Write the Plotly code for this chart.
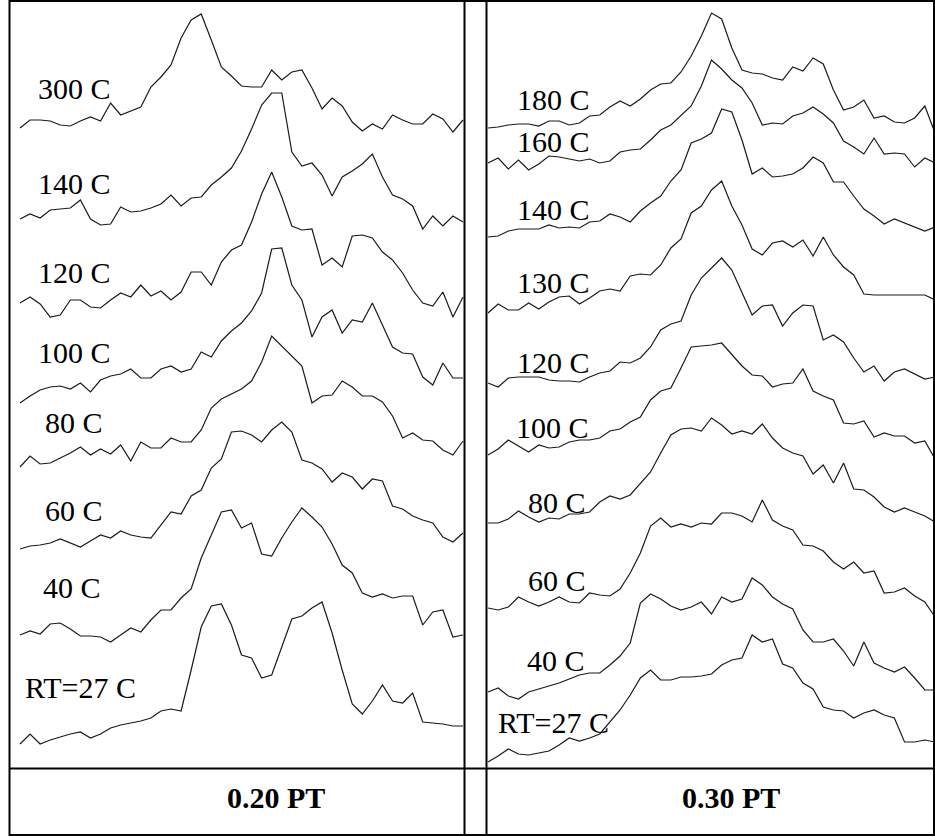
import plotly.graph_objects as go

W, H = 935, 836

# channel index (45 sampled channels per spectrum)
channels = list(range(45))

# ---- 0.20 PT panel: intensity (stacked, offset included) ----
pt20_300 = [640,648,648,647,643,642,647,651,647,665,653,657,661,681,691,703,730,748,754,728,701,692,682,681,681,698,688,696,698,680,659,670,662,646,637,644,639,653,648,644,644,654,649,636,648]
pt20_140 = [549,554,550,558,559,560,568,549,543,544,561,556,557,560,564,573,562,570,571,583,591,600,617,639,663,675,675,616,602,605,593,572,591,597,604,614,591,573,569,562,539,552,542,552,546]
pt20_120 = [465,471,464,451,453,468,468,461,460,468,475,471,483,472,477,468,476,496,496,483,506,518,523,546,574,596,571,542,538,539,503,510,501,532,533,530,516,508,495,478,465,462,476,451,471]
pt20_100 = [365,372,378,381,382,379,385,376,388,392,394,399,390,390,399,402,396,399,416,411,427,437,445,457,475,519,520,483,468,431,451,458,435,448,446,465,443,421,415,414,391,383,405,390,390]
pt20_80 = [301,312,304,305,310,315,321,313,319,314,323,307,326,320,320,330,326,326,338,360,369,374,379,387,406,432,422,411,402,365,372,373,387,381,372,372,366,352,330,335,328,327,318,313,327]
pt20_60 = [219,222,223,225,229,225,221,227,233,230,237,233,231,230,243,256,254,272,278,300,309,336,337,333,326,338,346,336,308,305,299,286,295,291,279,289,287,262,259,252,248,245,231,226,235]
pt20_40 = [133,137,134,144,145,139,132,132,131,126,133,140,136,148,158,158,170,179,210,233,256,258,240,245,214,212,230,246,260,251,241,224,203,195,175,171,174,170,172,172,143,156,158,131,133]
pt20_rt = [24,34,24,28,31,34,36,30,34,40,43,45,47,50,57,59,57,98,141,162,164,143,113,110,90,93,122,149,152,160,166,135,98,64,54,67,83,67,65,75,46,45,44,42,42]

# ---- 0.30 PT panel ----
pt30_180 = [640,641,643,644,644,642,647,647,643,645,652,653,661,667,662,669,678,684,685,696,712,732,755,749,720,698,695,694,690,688,701,697,710,704,678,658,661,668,650,652,646,645,650,662,635]
pt30_160 = [605,610,599,608,598,604,612,611,609,607,609,605,607,616,618,619,628,638,643,652,662,682,708,699,688,680,665,643,645,644,652,655,661,654,645,627,621,614,630,614,615,614,601,610,605]
pt30_140 = [531,532,537,539,539,539,543,540,541,540,546,547,554,551,546,557,565,572,587,598,625,629,635,659,656,628,594,600,591,592,594,600,611,605,586,586,572,559,552,544,549,545,541,537,541]
pt30_130 = [455,464,458,458,465,459,466,471,472,464,470,477,479,477,492,494,493,503,520,529,555,562,578,587,562,543,519,513,525,527,521,528,512,531,513,501,493,474,473,473,473,473,473,473,468]
pt30_120 = [385,381,390,391,391,391,388,387,387,386,391,395,397,406,405,410,421,438,444,447,473,490,500,510,498,475,453,462,463,442,455,463,462,428,433,426,410,396,402,387,396,399,394,389,391]
pt30_100 = [313,319,328,322,316,323,320,321,326,328,328,330,337,339,346,351,368,377,380,400,421,422,423,425,413,402,393,392,381,384,385,399,377,372,368,345,344,347,331,335,332,332,325,327,309]
pt30_80 = [245,245,249,257,251,246,250,249,254,254,256,266,272,269,273,284,296,315,333,339,340,337,350,343,334,337,334,344,330,320,315,312,294,303,285,305,279,278,271,261,256,260,256,252,246]
pt30_60 = [160,158,161,171,166,162,166,171,166,165,175,173,172,179,195,215,242,250,241,244,241,245,244,255,255,252,246,268,248,242,238,223,222,217,206,199,206,195,197,175,176,180,172,166,151]
pt30_40 = [76,80,72,69,76,79,82,85,89,93,95,95,103,112,125,165,174,169,162,158,161,166,154,171,166,169,190,183,171,164,159,138,126,126,129,117,102,126,105,100,96,101,90,78,78]
pt30_rt = [6,12,19,14,13,15,17,23,30,27,30,34,46,58,73,90,98,88,88,91,91,92,94,103,108,110,133,126,129,104,100,85,79,61,58,57,50,55,58,53,50,26,26,28,26]

pt20_labels = ["300 C", "140 C", "120 C", "100 C", "80 C", "60 C", "40 C", "RT=27 C"]
pt20_series = [pt20_300, pt20_140, pt20_120, pt20_100, pt20_80, pt20_60, pt20_40, pt20_rt]
pt30_labels = ["180 C", "160 C", "140 C", "130 C", "120 C", "100 C", "80 C", "60 C", "40 C", "RT=27 C"]
pt30_series = [pt30_180, pt30_160, pt30_140, pt30_130, pt30_120, pt30_100, pt30_80, pt30_60, pt30_40, pt30_rt]
panel_titles = ["0.20 PT", "0.30 PT"]

# ---- layout geometry (pixels) ----
def px(x):
    return x / W

def py(y):
    return 1 - y / H

fig = go.Figure()
line_style = dict(color="#1a1a1a", width=1.2)
for name, s in zip(pt20_labels, pt20_series):
    fig.add_trace(go.Scatter(x=channels, y=s, mode="lines", line=line_style,
                             xaxis="x", yaxis="y", name="0.20 PT " + name, showlegend=False))
for name, s in zip(pt30_labels, pt30_series):
    fig.add_trace(go.Scatter(x=channels, y=s, mode="lines", line=line_style,
                             xaxis="x2", yaxis="y", name="0.30 PT " + name, showlegend=False))

font = dict(family="Liberation Serif, Times New Roman, serif", size=30, color="black")
ann = []
pt20_pos = [(36, 88), (36, 183), (36, 273), (36, 352), (43, 422), (43, 510), (41, 587), (23, 687)]
pt30_pos = [(515, 100), (515, 142), (515, 209), (515, 282), (515, 362), (514, 427), (526, 502), (526, 580), (525, 660), (496, 722)]
for t, (x, y) in zip(pt20_labels, pt20_pos):
    ann.append(dict(text=t, x=px(x), y=py(y), xref="paper", yref="paper",
                    xanchor="left", yanchor="middle", showarrow=False, font=font))
for t, (x, y) in zip(pt30_labels, pt30_pos):
    ann.append(dict(text=t, x=px(x), y=py(y), xref="paper", yref="paper",
                    xanchor="left", yanchor="middle", showarrow=False, font=font))
for t, xc in zip(panel_titles, [275.5, 730.5]):
    ann.append(dict(text="<b>" + t + "</b>", x=px(xc), y=py(797), xref="paper", yref="paper",
                    xanchor="center", yanchor="middle", showarrow=False, font=font))

frame = dict(color="black", width=2)
shapes = [
    dict(type="rect", xref="paper", yref="paper", x0=px(9.5), x1=px(934), y0=py(1), y1=py(835), line=frame),
    dict(type="line", xref="paper", yref="paper", x0=px(464.5), x1=px(464.5), y0=py(0), y1=py(836), line=frame),
    dict(type="line", xref="paper", yref="paper", x0=px(486.5), x1=px(486.5), y0=py(0), y1=py(836), line=frame),
    dict(type="line", xref="paper", yref="paper", x0=px(9.5), x1=px(935), y0=py(768.5), y1=py(768.5), line=frame),
]

ax_common = dict(visible=False, showgrid=False, zeroline=False, fixedrange=True)
fig.update_layout(
    width=W, height=H,
    margin=dict(l=0, r=0, t=0, b=0, pad=0),
    paper_bgcolor="white", plot_bgcolor="white",
    xaxis=dict(domain=[px(10), px(465)], range=[-0.993, 44.199], **ax_common),
    xaxis2=dict(domain=[px(487), 1.0], range=[-0.098, 44.0], **ax_common),
    yaxis=dict(domain=[py(768), 1.0], range=[0, 768], **ax_common),
    annotations=ann,
    shapes=shapes,
    showlegend=False,
)

fig.write_html(
    "out.html",
    config={"displayModeBar": False, "responsive": False},
    post_script="document.body.style.margin='0px';document.body.style.padding='0px';document.documentElement.style.overflow='hidden';",
)
